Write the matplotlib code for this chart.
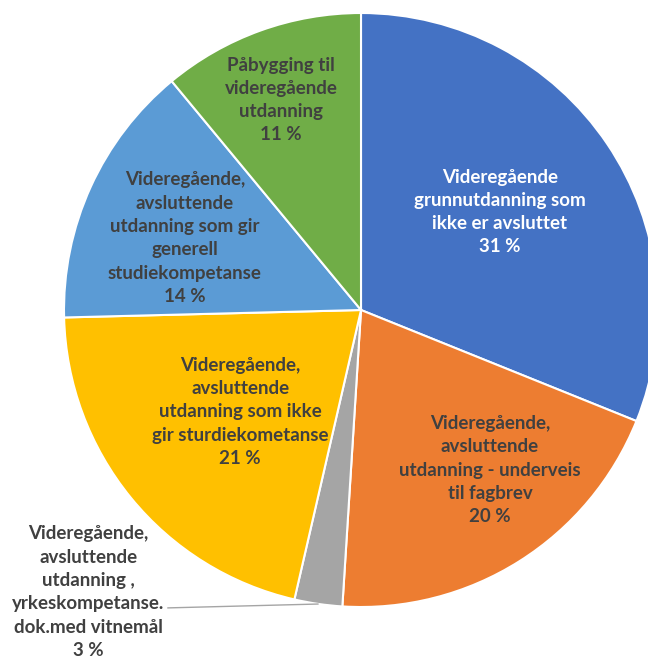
import matplotlib.pyplot as plt

# shares (percent)
categories = [
    "Videregående\ngrunnutdanning som\nikke er avsluttet",
    "Videregående,\navsluttende\nutdanning - underveis\ntil fagbrev",
    "Videregående,\navsluttende\nutdanning ,\nyrkeskompetanse.\ndok.med vitnemål",
    "Videregående,\navsluttende\nutdanning som ikke\ngir sturdiekometanse",
    "Videregående,\navsluttende\nutdanning som gir\ngenerell\nstudiekompetanse",
    "Påbygging til\nvideregående\nutdanning",
]
shares = [31.1, 19.9, 2.6, 21.0, 14.4, 11.0]

colors = ['#4472C4', '#ED7D31', '#A5A5A5', '#FFC000', '#5B9BD5', '#70AD47']
text_colors = ['white', '#404040', '#404040', '#404040', '#404040', '#404040']
# label centres in pie units (radius = 1)
label_pos = [(0.468, 0.330), (0.434, -0.539), (-0.919, -0.950),
             (-0.407, -0.343), (-0.593, 0.242), (-0.269, 0.707)]

fig = plt.figure(figsize=(6.48, 6.58), dpi=100)
ax = fig.add_axes([0, 0, 1, 1])
ax.pie(shares, colors=colors, startangle=90, counterclock=False,
       radius=1, wedgeprops=dict(edgecolor='white', linewidth=1.5))
ax.set_xlim(-1.2155, 0.9663)
ax.set_ylim(-1.1717, 1.0438)
ax.set_aspect('equal', adjustable='box')
ax.axis('off')

for cat, val, (x, y), tc in zip(categories, shares, label_pos, text_colors):
    ax.text(x, y, f"{cat}\n{round(val)} %", ha='center', va='center',
            color=tc, fontsize=13.5, fontweight='bold', family='Lato',
            linespacing=1.45)

# leader line for the small slice
ax.plot([-0.650, -0.145], [-1.003, -0.990], color='#A5A5A5', lw=1)

fig.savefig('out.png')
